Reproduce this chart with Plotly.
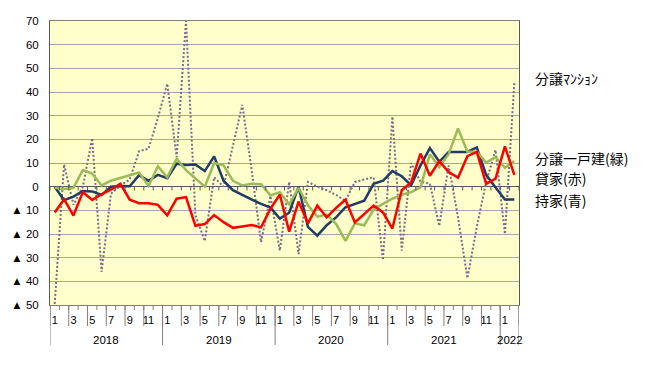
import plotly.graph_objects as go

# ---- categories ----
year_labels = ["2018", "2019", "2020", "2021", "2022"]
months_per_year = [12, 12, 12, 12, 2]
months = [m for n in months_per_year for m in range(1, n + 1)]
x = list(range(len(months)))

# ---- series (year-on-year %, Jan 2018 .. Feb 2022) ----
mansion = [-49.5, 9.4, -7.7, 0, 20.5, -36, -3, 0.5, 3, 15, 16, 29,
           43.5, 12.5, 70, -12, -23, 4, 0, 17, 34.6, 7, -23.5, -4,
           -27, 2, -28.5, 2, 0, -1.5, -3.5, -6, 2, 3, 4, -31,
           29.6, -27, 10, 2, 1.3, -16.6, 9, -13, -38.7, -17, 2, 15.5,
           -20, 43.8]
detached = [-0.5, -1, -0.5, 7, 5.5, 0.5, 2.5, 3.8, 4.8, 6, 0.3, 8.6,
            4, 11.8, 7, 3.5, 0, 10, 9, 2.5, 0.5, 1.2, 1, -3.7,
            -2.3, -7.5, -0.5, -7.9, -12.7, -11.8, -15.7, -22.9, -15.5, -16.3, -9.7, -7.3,
            -5.1, -3.4, -2.3, -0.3, 13.7, 8.3, 13.7, 24.6, 14.8, 14.8, 10.2, 12.5,
            8, 10.8]
rental = [-10.9, -5.3, -12.2, -2.3, -5.6, -3.2, -1.3, 1.2, -5.5, -7, -7, -7.7,
          -12.1, -5.1, -4.4, -16.5, -15.8, -12, -15, -17.4, -16.8, -16.2, -17.2, -9.4,
          -3.3, -19, -6.3, -15.5, -8, -13, -9, -5.5, -15.1, -11.6, -8, -10.9,
          -17.7, -1.5, 1.8, 14, 4.6, 10.8, 6.2, 3.8, 12.9, 14.7, 1.2, 3.4,
          17, 5]
owner = [0, -5.7, -4.2, -1.8, -2, -3.5, 0, 0.3, 0.2, 4.9, 2.5, 5,
         3.6, 9.7, 9.2, 9.4, 6.6, 12.8, 2.5, -1.5, -3.5, -5.5, -7.3, -8.8,
         -13.5, -11, 0, -17, -20.7, -16.3, -13, -8.7, -7.2, -5.9, 1.2, 2.5,
         6.6, 4.4, 0.6, 9, 16.3, 10.5, 14.7, 14.7, 14.7, 16.6, 5, -0.3,
         -5.4, -5.4]

y_tickvals = [70, 60, 50, 40, 30, 20, 10, 0, -10, -20, -30, -40, -50]
y_ticktext = ["70", "60", "50", "40", "30", "20", "10", "0",
              "▲ 10", "▲ 20", "▲ 30", "▲ 40", "▲ 50"]

series_labels = ["分譲ﾏﾝｼｮﾝ", "分譲一戸建(緑)", "貸家(赤)", "持家(青)"]

fig = go.Figure()
fig.add_trace(go.Scatter(x=x, y=mansion, mode="lines", name=series_labels[0],
                         line=dict(color="#7A6A8C", width=2, dash="2px,2px")))
fig.add_trace(go.Scatter(x=x, y=owner, mode="lines", name=series_labels[3],
                         line=dict(color="#1F3B66", width=2.5)))
fig.add_trace(go.Scatter(x=x, y=detached, mode="lines", name=series_labels[1],
                         line=dict(color="#9BBB59", width=2.5)))
fig.add_trace(go.Scatter(x=x, y=rental, mode="lines", name=series_labels[2],
                         line=dict(color="#FF0000", width=2.5)))

PLOT_H = 284.0
PLOT_W = 469.0
shapes = []
sep_col = "#808080"
n = len(x)
# small ticks on bottom edge and on the zero axis, every month boundary
for i in range(n + 1):
    xb = i - 0.5
    shapes.append(dict(type="line", xref="x", yref="paper", x0=xb, x1=xb,
                       y0=0, y1=-5 / PLOT_H, line=dict(color=sep_col, width=1)))
    shapes.append(dict(type="line", xref="x", yref="y", x0=xb, x1=xb,
                       y0=0, y1=-1.6, line=dict(color="#595959", width=1)))
# separators between label pairs (every 2 months)
for i in range(0, n + 1, 2):
    xb = i - 0.5
    shapes.append(dict(type="line", xref="x", yref="paper", x0=xb, x1=xb,
                       y0=0, y1=-21 / PLOT_H, line=dict(color=sep_col, width=1)))
# year separators
start = 0
bounds = [0]
for cnt in months_per_year:
    start += cnt
    bounds.append(start)
for b in bounds:
    xb = b - 0.5
    shapes.append(dict(type="line", xref="x", yref="paper", x0=xb, x1=xb,
                       y0=0, y1=-40 / PLOT_H, line=dict(color=sep_col, width=1)))

annotations = []
for k, yl in enumerate(year_labels):
    cx = (bounds[k] + bounds[k + 1] - 1) / 2
    annotations.append(dict(x=cx, y=0, xref="x", yref="paper", yshift=-35,
                            text=yl, showarrow=False, yanchor="middle",
                            font=dict(size=11.5, color="#000000")))

legend_y_px = [78, 158, 178, 200]
for lbl, py in zip(series_labels, legend_y_px):
    annotations.append(dict(x=(533 - 50) / PLOT_W, y=(371 - py - 66) / PLOT_H,
                            xref="paper", yref="paper",
                            text=lbl, showarrow=False, xanchor="left", yanchor="middle",
                            font=dict(size=14, color="#000000",
                                      family="Noto Sans CJK JP")))

odd_idx = [i for i, m in enumerate(months) if m % 2 == 1]
odd_txt = [str(months[i]) for i in odd_idx]

fig.update_layout(
    width=650, height=371,
    margin=dict(l=50, r=131, t=21, b=66, autoexpand=False),
    paper_bgcolor="#FFFFFF",
    plot_bgcolor="#FFFFCC",
    showlegend=False,
    font=dict(family="Liberation Sans, Arial, sans-serif", color="#000000"),
    shapes=shapes,
    annotations=annotations,
    xaxis=dict(range=[-0.5, n - 0.5], tickmode="array", tickvals=odd_idx,
               ticktext=odd_txt, showgrid=False, zeroline=False,
               ticks="outside", ticklen=5, tickcolor="rgba(0,0,0,0)",
               tickfont=dict(size=11), showline=True, linecolor="#7F7F7F",
               linewidth=1, mirror=True),
    yaxis=dict(range=[-50, 70], tickmode="array", tickvals=y_tickvals,
               ticktext=y_ticktext, showgrid=True, gridcolor="#A6A6A6",
               gridwidth=1, zeroline=True, zerolinecolor="#595959",
               zerolinewidth=1, ticks="outside", ticklen=8,
               tickcolor="rgba(0,0,0,0)", tickfont=dict(size=11.5),
               showline=True, linecolor="#595959", linewidth=1, mirror=True),
)

fig.write_html("out.html", config={"displayModeBar": False},
               post_script="document.body.style.margin='0';document.body.style.overflow='hidden';")
